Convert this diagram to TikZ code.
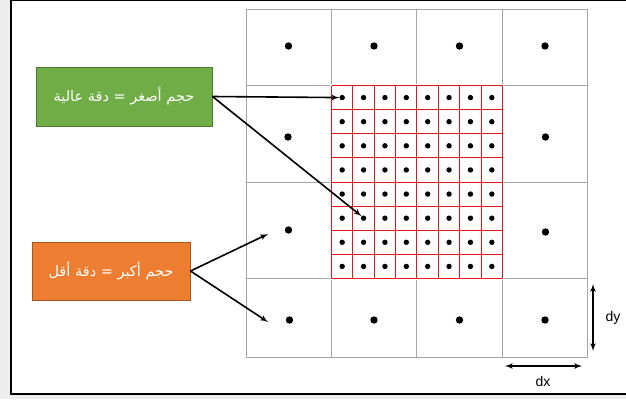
\documentclass[tikz,border=0pt]{standalone}
\usepackage{fontspec}
\usepackage{tikz}
\usetikzlibrary{arrows,positioning}
\TeXXeTstate=1
\newfontfamily\arabicfont[Script=Arabic]{DejaVu Sans}
\newfontfamily\labelfont{Liberation Sans}
\definecolor{boxgreen}{HTML}{70AD47}
\definecolor{boxgreenline}{HTML}{4E7A30}
\definecolor{boxorange}{HTML}{ED7D31}
\definecolor{boxorangeline}{HTML}{A8561E}
\definecolor{gridgray}{HTML}{A6A6A6}
\definecolor{fine}{HTML}{E8141A}
\begin{document}
\begin{tikzpicture}[x=1pt,y=-1pt,
  dot/.style={circle,fill=black,inner sep=0pt,minimum size=5.4pt},
  bigdot/.style={circle,fill=black,inner sep=0pt,minimum size=7.4pt},
  textbox/.style={draw,line width=1pt,text=white,inner sep=0pt,font=\arabicfont\fontsize{14.5}{16}\selectfont}]%the grid of cells
\useasboundingbox (0,0) rectangle (626,399);
%frame of the slide
\fill[black!7] (0,0) rectangle (626,399); \fill[white] (11,1) rectangle (626,394);
\draw[line width=2pt] (11,0)--(11,394)--(626,394); \draw[line width=1.6pt] (11,0.6)--(626,0.6);
%coarse grid
\draw[gridgray,line width=0.9pt] (246.5,9.5) rectangle (587.5,357.5);
\draw[gridgray,line width=0.9pt] (331.5,9.5)--(331.5,357.5); \draw[gridgray,line width=0.9pt] (416.5,9.5)--(416.5,357.5); \draw[gridgray,line width=0.9pt] (502.5,9.5)--(502.5,357.5);
\draw[gridgray,line width=0.9pt] (246.5,85.5)--(587.5,85.5); \draw[gridgray,line width=0.9pt] (246.5,182.5)--(587.5,182.5); \draw[gridgray,line width=0.9pt] (246.5,278.5)--(587.5,278.5);
%fine grid in the middle
\fill[white] (330,84) rectangle (504,280);
\foreach \x in {331.5,352.5,374.5,395.5,416.5,438.5,459.5,481.5,502.5} \draw[fine,line width=1.5pt] (\x,85.5) -- (\x,278.5);
\foreach \y in {85.5,109.5,133.5,157.5,182.5,206.5,230.5,254.5,278.5} \draw[fine,line width=1.5pt] (331.5,\y) -- (502.5,\y);
\foreach \r in {1,...,8} \foreach \c in {1,...,8} \node[dot] (r-\r-\c) at ({331.5+(\c-0.5)*21.375},{85.5+(\r-0.5)*24.125}) {};
%dots of the coarse cells
\node[bigdot] (c-1-1) at (288.5,46) {}; \node[bigdot] (c-1-2) at (374,46) {}; \node[bigdot] (c-1-3) at (459.5,46) {}; \node[bigdot] (c-1-4) at (545,46) {};
\node[bigdot] (c-2-1) at (288,137) {}; \node[bigdot] (c-2-4) at (545.5,137) {};
\node[bigdot] (c-3-1) at (288.5,230) {}; \node[bigdot] (c-3-4) at (545.5,232) {};
\node[bigdot] (c-4-1) at (289.5,320) {}; \node[bigdot] (c-4-2) at (374,320) {}; \node[bigdot] (c-4-3) at (459.5,320) {}; \node[bigdot] (c-4-4) at (545,320) {};
%the two boxes
\node[textbox,fill=boxgreen,draw=boxgreenline,minimum width=176pt,minimum height=59pt] (hi) at (124,96.5) {\beginR حجم أصغر = دقة عالية\endR};
\node[textbox,fill=boxorange,draw=boxorangeline,minimum width=158pt,minimum height=58pt] (lo) at (111,271) {\beginR حجم أكبر = دقة أقل\endR};
%arrows from the boxes
\coordinate (t1) at (268,234); \coordinate (t2) at (268,322);
\draw[line width=1.6pt,->, > = latex'] (hi.east) -- (r-1-1.west);
\draw[line width=1.6pt,->, > = latex'] (hi.east) -- (r-6-2.north west);
\draw[line width=1.6pt,->, > = latex'] (lo.east) -- (t1);
\draw[line width=1.6pt,->, > = latex'] (lo.east) -- (t2);
%size of one cell
\coordinate (dytop) at (593,284); \coordinate (dybot) at (593,351);
\coordinate (dxleft) at (505,366); \coordinate (dxright) at (582,366);
\draw[line width=1.6pt,<->, > = latex'] (dytop) -- (dybot); \node[font=\labelfont\fontsize{14}{16}\selectfont] (dy) at (613,318) {dy};
\draw[line width=1.6pt,<->, > = latex'] (dxleft) -- (dxright); \node[font=\labelfont\fontsize{14}{16}\selectfont] (dx) at (543,381) {dx};
\end{tikzpicture}
\end{document}
